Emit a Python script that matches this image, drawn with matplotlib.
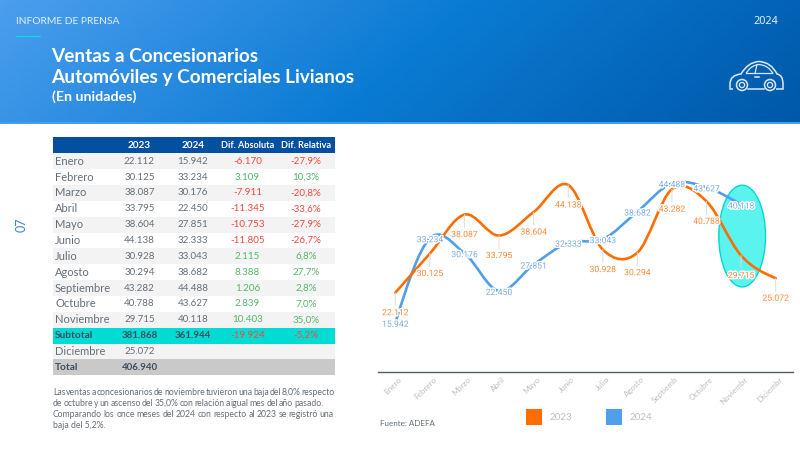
import numpy as np
import matplotlib
matplotlib.use('Agg')
import matplotlib.pyplot as plt
import matplotlib.patheffects as pe
from matplotlib.colors import LinearSegmentedColormap
from matplotlib.patches import Ellipse, PathPatch, Rectangle, Circle
from matplotlib.path import Path
from matplotlib.transforms import ScaledTranslation

plt.rcParams['font.family'] = ['Lato', 'DejaVu Sans']

# table data
months = ['Enero', 'Febrero', 'Marzo', 'Abril', 'Mayo', 'Junio', 'Julio', 'Agosto',
          'Septiembre', 'Octubre', 'Noviembre', 'Subtotal', 'Diciembre', 'Total']
col_2023 = ['22.112', '30.125', '38.087', '33.795', '38.604', '44.138', '30.928', '30.294',
            '43.282', '40.788', '29.715', '381.868', '25.072', '406.940']
col_2024 = ['15.942', '33.234', '30.176', '22.450', '27.851', '32.333', '33.043', '38.682',
            '44.488', '43.627', '40.118', '361.944', '', '']
col_abs = ['-6.170', '3.109', '-7.911', '-11.345', '-10.753', '-11.805', '2.115', '8.388',
           '1.206', '2.839', '10.403', '-19.924', '', '']
col_rel = ['-27,9%', '10,3%', '-20,8%', '-33,6%', '-27,9%', '-26,7%', '6,8%', '27,7%',
           '2,8%', '7,0%', '35,0%', '-5,2%', '', '']
headers = ['2023', '2024', 'Dif. Absoluta', 'Dif. Relativa']

# chart data
tick_labels = ['Enero', 'Febrero', 'Marzo', 'Abril', 'Mayo', 'Junio', 'Julio', 'Agosto',
               'Septiemb', 'Octubre', 'Noviembr', 'Diciembr']
sales_2023 = [22112, 30125, 38087, 33795, 38604, 44138, 30928, 30294, 43282, 40788, 29715, 25072]
sales_2024 = [15942, 33234, 30176, 22450, 27851, 32333, 33043, 38682, 44488, 43627, 40118]

paragraph = [
    'Las ventas a concesionarios de noviembre tuvieron una baja del 8,0% respecto',
    'de octubre y un ascenso del 35,0% con relación a igual mes del año pasado.',
    'Comparando los once meses del 2024 con respecto al 2023 se registró una',
    'baja del 5,2%.',
]

ORANGE = '#ff6d00'
BLUE = '#4f9fea'
DARK = '#3f4d5c'
GREY = '#666f78'
RED = '#f4483c'
GREEN = '#52b96a'


def dotted(v):
    return f'{v:,}'.replace(',', '.')


# Smooth line through the points, as bezier segments in data coordinates
def smooth_path(values):
    y = np.array(values, dtype=float)
    x = np.arange(len(y), dtype=float)
    slope = np.zeros(len(y))
    slope[1:-1] = (y[2:] - y[:-2]) / 2
    slope[0] = (3 * (y[1] - y[0]) - slope[1]) / 2
    slope[-1] = (3 * (y[-1] - y[-2]) - slope[-2]) / 2
    verts = [(x[0], y[0])]
    codes = [Path.MOVETO]
    for i in range(len(y) - 1):
        verts += [(x[i] + 1 / 3, y[i] + slope[i] / 3),
                  (x[i + 1] - 1 / 3, y[i + 1] - slope[i + 1] / 3),
                  (x[i + 1], y[i + 1])]
        codes += [Path.CURVE4] * 3
    return Path(verts, codes)


# Spreads the words of a line over the given width
def justified(ax, words, left, right, y, **kw):
    rend = ax.figure.canvas.get_renderer()
    items = [ax.text(left, y, w, va='center', ha='left', **kw) for w in words]
    widths = [t.get_window_extent(rend).width for t in items]
    gap = (right - left - sum(widths)) / (len(words) - 1)
    pos = left
    for t, w in zip(items, widths):
        t.set_x(pos)
        pos += w + gap


fig = plt.figure(figsize=(8, 4.5), dpi=100)
bg = fig.add_axes([0, 0, 1, 1])
bg.set_xlim(0, 800)
bg.set_ylim(450, 0)
bg.axis('off')

# header band
gx, gy = np.meshgrid(np.linspace(0, 1, 200), np.linspace(0, 1, 40))
grad = gx * 0.85 + gy * 0.15
cmap = LinearSegmentedColormap.from_list('band', ['#4c9eee', '#0a7bd3', '#0058a8'])
bg.imshow(grad, cmap=cmap, extent=(0, 800, 123, 0), aspect='auto', zorder=0)
bg.set_xlim(0, 800)
bg.set_ylim(450, 0)
bg.add_patch(Rectangle((0, 122), 800, 1.5, color='#3fa0f0', lw=0, zorder=1))

bg.text(16, 21, 'INFORME DE PRENSA', color='#e4f0fb', fontsize=7.4, va='center')
bg.text(778, 21, '2024', color='#e4f0fb', fontsize=7.8, va='center', ha='right', family='Noto Sans')
bg.plot([16, 40], [36.3, 36.3], color='#12d6e0', lw=1)
bg.text(51.5, 56, 'Ventas a Concesionarios', color='white', fontsize=13.7, weight='bold', va='center')
bg.text(51.5, 78, 'Automóviles y Comerciales Livianos', color='white', fontsize=13.7, weight='bold', va='center')
bg.text(51.5, 97, '(En unidades)', color='white', fontsize=10.3, weight='bold', va='center')

# car icon
ICON = '#dfe8f2'
body = Path([(733, 89), (730, 89), (730, 84), (730, 75), (741, 74), (748, 62), (759, 61.5), (771, 62),
             (777, 74), (783, 75), (783, 84), (783, 89), (776, 89)],
            [Path.MOVETO, Path.LINETO, Path.LINETO, Path.CURVE3, Path.CURVE3, Path.CURVE3, Path.CURVE3,
             Path.CURVE3, Path.CURVE3, Path.CURVE3, Path.CURVE3, Path.LINETO, Path.LINETO])
bg.add_patch(PathPatch(body, fc='none', ec=ICON, lw=1.1, zorder=3))
bg.plot([748, 764], [89, 89], color=ICON, lw=1.1, zorder=3)
window = Path([(746, 73.5), (751, 65), (759, 64.5), (768, 65), (773, 73.5), (746, 73.5)],
              [Path.MOVETO, Path.CURVE3, Path.CURVE3, Path.CURVE3, Path.CURVE3, Path.LINETO])
bg.add_patch(PathPatch(window, fc='none', ec=ICON, lw=0.9, zorder=3))
bg.plot([757, 755], [64.5, 73.5], color=ICON, lw=0.9, zorder=3)
bg.plot([755, 759], [76.5, 76.5], color=ICON, lw=1.1, zorder=3)
for cx in (742, 770):
    bg.add_patch(Circle((cx, 85), 5.5, fc='#0060b0', ec=ICON, lw=1.1, zorder=4))
    bg.add_patch(Circle((cx, 85), 2.6, fc='none', ec=ICON, lw=0.9, zorder=4))

# page number
bg.text(22, 225, '07', color='#3f7fcf', fontsize=9, rotation=90, ha='center', va='center')

# table
tab_left, tab_right = 52.5, 335
head_top, head_bottom = 137.3, 153.3
row_h = 15.85
col_x = [139.5, 193, 247.5, 306]
bg.add_patch(Rectangle((tab_left, head_top), tab_right - tab_left, head_bottom - head_top,
                       color='#0450a0', lw=0, zorder=1))
for x, h in zip(col_x, headers):
    bg.text(x, (head_top + head_bottom) / 2, h, color='white', fontsize=6.6 if 'Dif' in h else 7.2,
            weight='bold', ha='center', va='center', zorder=2)

for i, m in enumerate(months):
    top = head_bottom + i * row_h
    yc = top + row_h / 2
    is_sub = m == 'Subtotal'
    is_total = m == 'Total'
    fill = None
    if is_sub:
        fill = '#00dcd4'
    elif is_total:
        fill = '#c9c9c9'
    elif i % 2 == 0:
        fill = '#f3f3f3'
    if fill:
        bg.add_patch(Rectangle((tab_left, top), tab_right - tab_left, row_h, color=fill, lw=0, zorder=1))
    weight = 'bold' if is_sub or is_total else 'normal'
    color = DARK if is_sub or is_total else GREY
    bg.text(55, yc, m, color=color, fontsize=7.3 if weight == 'bold' else 8, weight=weight, va='center', zorder=2)
    bg.text(col_x[0], yc, col_2023[i], color=color, fontsize=7, weight=weight, ha='center', va='center', zorder=2)
    bg.text(col_x[1], yc, col_2024[i], color=color, fontsize=7, weight=weight, ha='center', va='center', zorder=2)
    for x, s in zip(col_x[2:], (col_abs[i], col_rel[i])):
        tone = RED if s.startswith('-') else GREEN
        bg.text(x, yc, s, color=tone, fontsize=7.1, ha='center', va='center', zorder=2)

# paragraph under the table
para_y = [392.3, 403.3, 414.3, 425]
para_right = [334, 323, 334, None]
for line, y, right in zip(paragraph, para_y, para_right):
    if right is None:
        bg.text(53, y, line, color=GREY, fontsize=6.2, va='center')
    else:
        justified(bg, line.split(), 53, right, y, color=GREY, fontsize=6.2)

# chart, placed by pixel box
ax = fig.add_axes([378 / 800, (450 - 371.5) / 450, 415 / 800, (371.5 - 175) / 450])
ax.patch.set_alpha(0)
ax.set_xlim(-0.5, 11.5)
ax.set_ylim(6000, 46180)
for side in ('top', 'left', 'right'):
    ax.spines[side].set_visible(False)
ax.spines['bottom'].set_color('#555b61')
ax.spines['bottom'].set_linewidth(1)
ax.set_yticks([])
ax.set_xticks(range(len(tick_labels)))
ax.set_xticklabels(tick_labels, rotation=45, ha='right', va='top', rotation_mode='anchor',
                   fontsize=5.8, color='#bdbdbd')
ax.tick_params(axis='x', length=0, pad=3)
for lab in ax.get_xticklabels():
    lab.set_transform(lab.get_transform() + ScaledTranslation(3 / 100, 0, fig.dpi_scale_trans))

# highlighted month
ax.add_patch(Ellipse((10.03, 33700), 1.35, 20800, fc='#5af3ee', ec='#00d8d0', lw=1, zorder=1))

ax.add_patch(PathPatch(smooth_path(sales_2024), fc='none', ec=BLUE, lw=1.9, capstyle='round', zorder=2))
ax.add_patch(PathPatch(smooth_path(sales_2023), fc='none', ec=ORANGE, lw=1.9, capstyle='round', zorder=3))

halo = [pe.withStroke(linewidth=2, foreground='white')]
for i, v in enumerate(sales_2023):
    ax.annotate(dotted(v), xy=(i, v), xytext=(0, -14.4), textcoords='offset points', ha='center',
                va='center', fontsize=6.2, color='#f98b3c', family='Roboto', path_effects=halo, zorder=5,
                arrowprops=dict(arrowstyle='-', color='#dddddd', lw=0.7, shrinkA=0, shrinkB=0))
for i, v in enumerate(sales_2024):
    ax.annotate(dotted(v), xy=(i, v), xytext=(0, -1), textcoords='offset points', ha='center',
                va='center', fontsize=6.2, color='#79aee8', family='Roboto', path_effects=halo, zorder=5)

# legend and source
bg.add_patch(Rectangle((526, 409), 15.7, 15.7, color=ORANGE, lw=0, zorder=2))
bg.add_patch(Rectangle((606, 409), 15.7, 15.7, color=BLUE, lw=0, zorder=2))
bg.text(550, 418, '2023', color='#bdbdbd', fontsize=7, va='center')
bg.text(630, 418, '2024', color='#bdbdbd', fontsize=7, va='center')
bg.text(380, 423, 'Fuente: ADEFA', color=GREY, fontsize=5.8, va='center')

fig.savefig('out.png', dpi=100)
